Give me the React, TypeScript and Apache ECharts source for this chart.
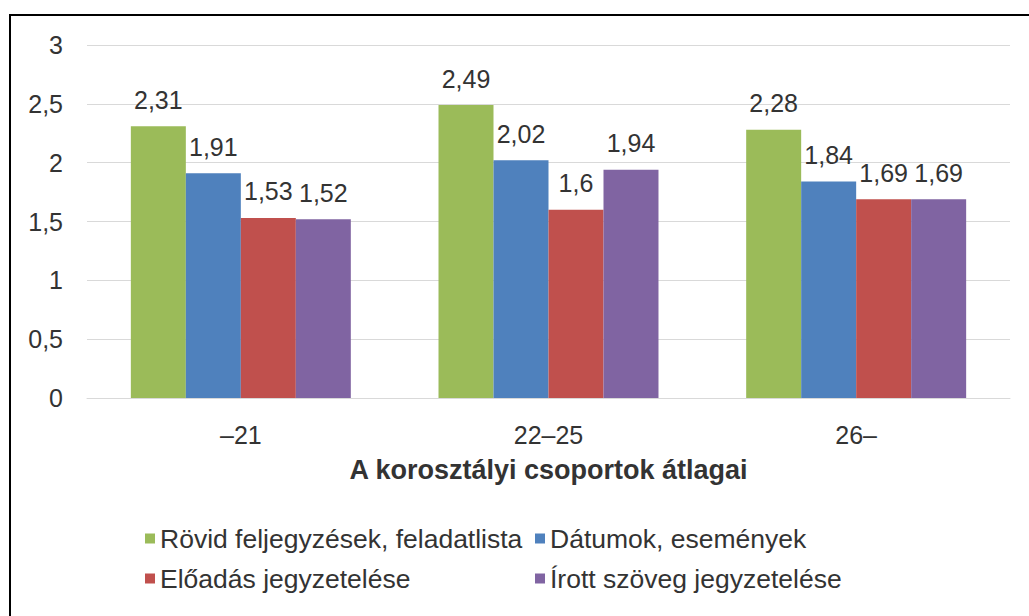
import React, { useEffect, useRef } from "react";
import * as echarts from "echarts";

const categories = ["–21", "22–25", "26–"];
const seriesNames = [
  "Rövid feljegyzések, feladatlista",
  "Dátumok, események",
  "Előadás jegyzetelése",
  "Írott szöveg jegyzetelése",
];
const rovid = [2.31, 2.49, 2.28];
const datumok = [1.91, 2.02, 1.84];
const eloadas = [1.53, 1.6, 1.69];
const irott = [1.52, 1.94, 1.69];
const colors = ["#9BBB59", "#4F81BD", "#C0504D", "#8064A2"];
const axisTitle = "A korosztályi csoportok átlagai";

const FONT = "'Liberation Sans', Arial, sans-serif";
const TXT = "#333333";

export default function App() {
  const ref = useRef<HTMLDivElement>(null);
  useEffect(() => {
    if (!ref.current) return;
    const chart = echarts.init(ref.current, null, { renderer: "svg" });
    const data = [rovid, datumok, eloadas, irott];
    const legendPos = [
      { left: 145, top: 525 },
      { left: 535, top: 525 },
      { left: 145, top: 565 },
      { left: 535, top: 565 },
    ];
    chart.setOption({
      animation: false,
      backgroundColor: "#ffffff",
      textStyle: { fontFamily: FONT },
      grid: { left: 87, right: 19, top: 45, bottom: 218, containLabel: false },
      legend: seriesNames.map((n, i) => ({
        data: [n],
        left: legendPos[i].left,
        top: legendPos[i].top,
        icon: "rect",
        itemWidth: 10,
        itemHeight: 10,
        itemGap: 0,
        padding: 0,
        textStyle: { fontSize: 26.5, color: TXT, fontFamily: FONT },
      })),
      xAxis: {
        type: "category",
        data: categories,
        name: axisTitle,
        nameLocation: "middle",
        nameGap: 58,
        nameTextStyle: { fontSize: 27, fontWeight: "bold", color: TXT, fontFamily: FONT },
        axisTick: { show: false },
        axisLine: { lineStyle: { color: "#d9d9d9", width: 1 } },
        axisLabel: { fontSize: 25, color: TXT, margin: 24, fontFamily: FONT },
      },
      yAxis: {
        type: "value",
        min: 0,
        max: 3,
        interval: 0.5,
        axisLabel: {
          fontSize: 25,
          color: TXT,
          margin: 24,
          fontFamily: FONT,
          formatter: (v: number) => String(v).replace(".", ","),
        },
        splitLine: { lineStyle: { color: "#d9d9d9", width: 1 } },
        axisLine: { show: false },
        axisTick: { show: false },
      },
      series: seriesNames.map((n, i) => ({
        name: n,
        type: "bar",
        data: data[i],
        barGap: "0%",
        barCategoryGap: "28.5%",
        itemStyle: { color: colors[i] },
        label: {
          show: true,
          position: "top",
          distance: 14,
          fontSize: 25,
          color: TXT,
          fontFamily: FONT,
          formatter: (p: any) => String(p.value).replace(".", ","),
        },
      })),
      graphic: [
        {
          type: "rect",
          shape: { x: 10, y: 15, width: 1040, height: 640 },
          style: { fill: "none", stroke: "#000", lineWidth: 2 },
          silent: true,
          z: 100,
        },
      ],
    });
    return () => chart.dispose();
  }, []);
  return (
    <div
      ref={ref}
      style={{ position: "fixed", left: 0, top: 0, width: 1029, height: 616 }}
    />
  );
}
